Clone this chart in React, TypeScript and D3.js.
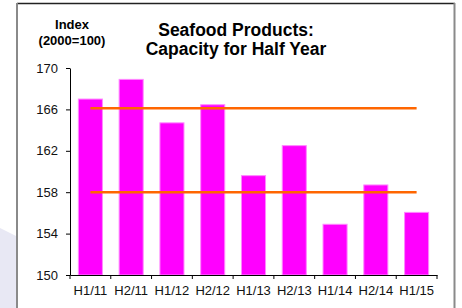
import React, { useEffect, useRef } from 'react';
import * as d3 from 'd3';

const categories = ['H1/11', 'H2/11', 'H1/12', 'H2/12', 'H1/13', 'H2/13', 'H1/14', 'H2/14', 'H1/15'];
const capacity = [167.0, 168.9, 164.7, 166.45, 159.6, 162.5, 154.9, 158.7, 156.05];
const refLines = [166.1, 158.0];
const yTicks = [150, 154, 158, 162, 166, 170];

const App = () => {
  const svgRef = useRef<SVGSVGElement | null>(null);

  useEffect(() => {
    const width = 462;
    const height = 308;
    const margin = { top: 68, right: 25, bottom: 33, left: 70 };
    const font = 'Liberation Sans, Arial, sans-serif';

    d3.select(svgRef.current).selectAll('*').remove();

    const svg = d3.select(svgRef.current)
      .attr('width', width)
      .attr('height', height)
      .style('font-family', font);

    svg.append('rect')
      .attr('width', width)
      .attr('height', height)
      .attr('fill', '#ffffff');

    // faint shape bottom-left behind the frame
    svg.append('path')
      .attr('d', 'M0,228 L16,236 L16,308 L0,308 Z')
      .attr('fill', '#e8e8f4');

    // frame
    svg.append('line')
      .attr('x1', 17).attr('x2', 455).attr('y1', 3.5).attr('y2', 3.5)
      .attr('stroke', '#222').attr('stroke-width', 1.5);
    svg.append('line')
      .attr('x1', 17).attr('x2', 17).attr('y1', 3).attr('y2', height)
      .attr('stroke', '#8a8a8a').attr('stroke-width', 2);
    svg.append('line')
      .attr('x1', 454.5).attr('x2', 454.5).attr('y1', 3).attr('y2', height)
      .attr('stroke', '#8a8a8a').attr('stroke-width', 2);

    const x = d3.scaleBand()
      .domain(categories)
      .range([margin.left, width - margin.right])
      .padding(0);

    const y = d3.scaleLinear()
      .domain([150, 170])
      .range([height - margin.bottom, margin.top]);

    const barW = x.bandwidth() * 0.59;

    // bars
    svg.selectAll('.bar')
      .data(capacity)
      .join('rect')
      .attr('class', 'bar')
      .attr('x', (d, i) => x(categories[i])! + (x.bandwidth() - barW) / 2)
      .attr('y', d => y(d))
      .attr('width', barW)
      .attr('height', d => y(150) - y(d))
      .attr('fill', '#ff00ff')
      .attr('stroke', '#ff88ff')
      .attr('stroke-width', 1);

    // reference lines from first to last category centre
    const x0 = x(categories[0])! + x.bandwidth() / 2;
    const x1 = x(categories[categories.length - 1])! + x.bandwidth() / 2;
    svg.selectAll('.ref')
      .data(refLines)
      .join('line')
      .attr('class', 'ref')
      .attr('x1', x0).attr('x2', x1)
      .attr('y1', d => y(d)).attr('y2', d => y(d))
      .attr('stroke', '#ff6600')
      .attr('stroke-width', 2.5);

    // y axis
    const yAxis = svg.append('g')
      .attr('transform', `translate(${margin.left},0)`)
      .call(d3.axisLeft(y).tickValues(yTicks).tickSize(4).tickSizeOuter(0).tickPadding(8));
    yAxis.selectAll('path, line').attr('stroke', '#000');
    yAxis.selectAll('text')
      .style('font-size', '13px')
      .style('font-family', font)
      .attr('fill', '#111');

    // x axis
    const xAxis = svg.append('g')
      .attr('transform', `translate(0,${y(150)})`)
      .call(d3.axisBottom(x).tickSize(0).tickSizeOuter(0).tickPadding(11));
    xAxis.select('path').attr('stroke', '#000');
    xAxis.selectAll('text')
      .style('font-size', '13px')
      .style('font-family', font)
      .attr('fill', '#111');
    const bounds = categories.map(c => x(c)!).concat([x.range()[1]]);
    xAxis.selectAll('.bound')
      .data(bounds)
      .join('line')
      .attr('class', 'bound')
      .attr('x1', d => d).attr('x2', d => d)
      .attr('y1', 0).attr('y2', 4)
      .attr('stroke', '#000');

    // axis title
    svg.append('text')
      .attr('x', 72).attr('y', 29)
      .attr('text-anchor', 'middle')
      .style('font-size', '13px').style('font-weight', 'bold')
      .text('Index');
    svg.append('text')
      .attr('x', 72).attr('y', 45)
      .attr('text-anchor', 'middle')
      .style('font-size', '13px').style('font-weight', 'bold')
      .text('(2000=100)');

    // chart title
    svg.append('text')
      .attr('x', 236).attr('y', 35.5)
      .attr('text-anchor', 'middle')
      .style('font-size', '17.5px').style('font-weight', 'bold')
      .text('Seafood Products:');
    svg.append('text')
      .attr('x', 236).attr('y', 55)
      .attr('text-anchor', 'middle')
      .style('font-size', '17.5px').style('font-weight', 'bold')
      .text('Capacity for Half Year');
  }, []);

  return (
    <div style={{ position: 'absolute', left: 0, top: 0 }}>
      <svg ref={svgRef} style={{ display: 'block' }}></svg>
    </div>
  );
};

export default App;
